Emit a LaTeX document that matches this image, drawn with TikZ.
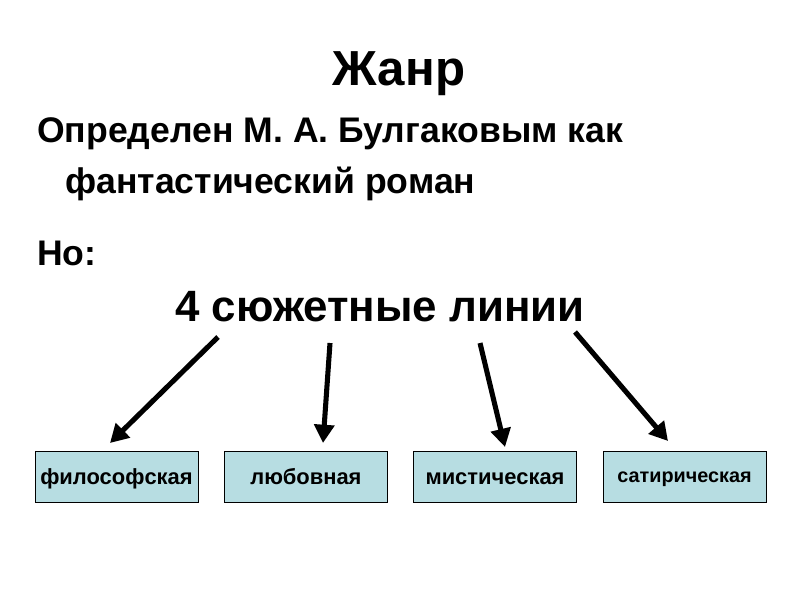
\documentclass[tikz,border=0pt]{standalone}
\usepackage{fontspec}
\setmainfont{Liberation Sans}
\usetikzlibrary{arrows.meta,positioning}
\definecolor{boxfill}{RGB}{183,221,226}

\begin{document}
\begin{tikzpicture}[x=0.025cm, y=-0.025cm,
  bodytext/.style={anchor=base west, inner sep=0pt, font=\fontsize{25.3}{30}\selectfont\bfseries},
  linebox/.style={draw=black, fill=boxfill, minimum width=4.075cm, minimum height=1.275cm, inner sep=0pt,
    text height=12pt, text depth=0pt, font=\fontsize{15.6}{18}\selectfont\bfseries},
  plotarrow/.style={-{Triangle[length=13pt,width=14pt]}, line width=3.6pt}]
\useasboundingbox (0,0) rectangle (800,600);

% Title
\node[anchor=base, inner sep=0pt, font=\fontsize{35}{40}\selectfont\bfseries] (title) at (399,85) {Жанр};

% Definition
\node[bodytext] (def1) at (37,142) {Определен М. А. Булгаковым как};
\node[bodytext] (def2) at (65,193) {фантастический роман};
\node[bodytext] (but) at (37,265) {Но:};
\node[anchor=base, inner sep=0pt, font=\fontsize{31.2}{36}\selectfont\bfseries] (lines) at (380,321) {4 сюжетные линии};

% Plot lines
\node[linebox] (phil) at (116.5,476.5) {философская};
\node[linebox] (love) at (306,476.5) {любовная};
\node[linebox] (myst) at (495,476.5) {мистическая};
\node[linebox, text depth=3pt, font=\fontsize{14.1}{17}\selectfont\bfseries] (sat) at (684.5,476.5) {сатирическая};

% Arrows
\coordinate (s1) at (218,337);
\coordinate (s2) at (330,343);
\coordinate (s3) at (480,343);
\coordinate (s4) at (575,332);
\coordinate (e1) at (110,443);
\coordinate (e2) at (323,443);
\coordinate (e3) at (505,447);
\coordinate (e4) at (668,441);
\draw[plotarrow] (s1) -- (e1);
\draw[plotarrow] (s2) -- (e2);
\draw[plotarrow] (s3) -- (e3);
\draw[plotarrow] (s4) -- (e4);

\end{tikzpicture}
\end{document}
